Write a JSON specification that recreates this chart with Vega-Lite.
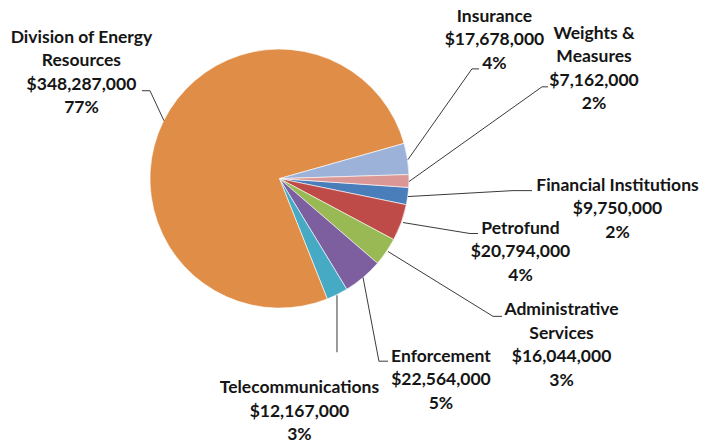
{
  "$schema": "https://vega.github.io/schema/vega-lite/v6.json",
  "width": 704,
  "height": 444,
  "autosize": {"type": "fit", "contains": "padding"},
  "padding": 0,
  "background": "white",
  "config": {"view": {"stroke": null}},
  "datasets": {
    "budget": [
      {"name": "Financial Institutions", "label": "Financial  Institutions", "amount": 9750000, "pct": 2},
      {"name": "Petrofund", "label": "Petrofund", "amount": 20794000, "pct": 4},
      {"name": "Administrative Services", "label": "Administrative\nServices", "amount": 16044000, "pct": 3},
      {"name": "Enforcement", "label": "Enforcement", "amount": 22564000, "pct": 5},
      {"name": "Telecommunications", "label": "Telecommunications", "amount": 12167000, "pct": 3},
      {"name": "Division of Energy Resources", "label": "Division of Energy\nResources", "amount": 348287000, "pct": 77},
      {"name": "Insurance", "label": "Insurance", "amount": 17678000, "pct": 4},
      {"name": "Weights & Measures", "label": "Weights &\nMeasures", "amount": 7162000, "pct": 2}
    ],
    "labelpos": [
      {"name": "Financial Institutions", "lx": 261.0, "ly": -4.6},
      {"name": "Petrofund", "lx": 186.1, "ly": -38.1},
      {"name": "Administrative Services", "lx": 217.8, "ly": -101.2},
      {"name": "Enforcement", "lx": 124.7, "ly": -137.2},
      {"name": "Telecommunications", "lx": 15.4, "ly": -161.6},
      {"name": "Division of Energy Resources", "lx": -152.9, "ly": 109.7},
      {"name": "Insurance", "lx": 166.0, "ly": 125.9},
      {"name": "Weights & Measures", "lx": 242.9, "ly": 112.7}
    ],
    "leaders": [
      {"name": "Division of Energy Resources", "k": 0, "lx": -89.2, "ly": 44.8},
      {"name": "Division of Energy Resources", "k": 1, "lx": -100.0, "ly": 68.0},
      {"name": "Division of Energy Resources", "k": 2, "lx": -106.2, "ly": 68.0},
      {"name": "Insurance", "k": 0, "lx": 99.2, "ly": 14.7},
      {"name": "Insurance", "k": 1, "lx": 148.6, "ly": 84.9},
      {"name": "Insurance", "k": 2, "lx": 154.1, "ly": 84.9},
      {"name": "Weights & Measures", "k": 0, "lx": 100.0, "ly": -2.3},
      {"name": "Weights & Measures", "k": 1, "lx": 202.7, "ly": 71.0},
      {"name": "Weights & Measures", "k": 2, "lx": 207.3, "ly": 71.0},
      {"name": "Financial Institutions", "k": 0, "lx": 99.2, "ly": -13.9},
      {"name": "Financial Institutions", "k": 1, "lx": 180.3, "ly": -9.3},
      {"name": "Financial Institutions", "k": 2, "lx": 195.0, "ly": -9.3},
      {"name": "Petrofund", "k": 0, "lx": 95.4, "ly": -34.0},
      {"name": "Petrofund", "k": 1, "lx": 147.1, "ly": -42.5},
      {"name": "Petrofund", "k": 2, "lx": 153.3, "ly": -42.5},
      {"name": "Administrative Services", "k": 0, "lx": 83.8, "ly": -56.4},
      {"name": "Administrative Services", "k": 1, "lx": 164.9, "ly": -106.6},
      {"name": "Administrative Services", "k": 2, "lx": 171.8, "ly": -106.6},
      {"name": "Enforcement", "k": 0, "lx": 64.5, "ly": -76.4},
      {"name": "Enforcement", "k": 1, "lx": 76.8, "ly": -141.3},
      {"name": "Enforcement", "k": 2, "lx": 83.8, "ly": -141.3},
      {"name": "Telecommunications", "k": 0, "lx": 44.4, "ly": -90.3},
      {"name": "Telecommunications", "k": 1, "lx": 44.4, "ly": -134.4}
    ]
  },
  "layer": [
    {
      "data": {"name": "budget"},
      "transform": [{"window": [{"op": "row_number", "as": "i"}]}],
      "mark": {"type": "arc", "outerRadius": 129.5, "stroke": "white", "strokeWidth": 0.6},
      "encoding": {
        "theta": {"field": "amount", "type": "quantitative", "stack": true, "scale": {"range": [1.639, 7.922]}},
        "order": {"field": "i", "type": "quantitative"},
        "color": {
          "field": "name",
          "type": "nominal",
          "legend": null,
          "scale": {
            "domain": ["Financial Institutions", "Petrofund", "Administrative Services", "Enforcement", "Telecommunications", "Division of Energy Resources", "Insurance", "Weights & Measures"],
            "range": ["#4A7EBB", "#BE4B48", "#98B954", "#7D5FA0", "#46AAC5", "#E08E47", "#9DB2D9", "#DA9796"]
          }
        },
        "x": {"datum": 0, "type": "quantitative", "scale": {"domain": [-215.8, 327.8], "nice": false, "zero": false}, "axis": null},
        "y": {"datum": 0, "type": "quantitative", "scale": {"domain": [-204.6, 138.2], "nice": false, "zero": false}, "axis": null}
      }
    },
    {
      "data": {"name": "leaders"},
      "mark": {"type": "line", "color": "#3a3a3a", "strokeWidth": 1},
      "encoding": {
        "x": {"field": "lx", "type": "quantitative", "axis": null},
        "y": {"field": "ly", "type": "quantitative", "axis": null},
        "detail": {"field": "name", "type": "nominal"},
        "order": {"field": "k", "type": "quantitative"}
      }
    },
    {
      "data": {"name": "labelpos"},
      "transform": [
        {"lookup": "name", "from": {"data": {"name": "budget"}, "key": "name", "fields": ["label", "amount", "pct"]}},
        {"calculate": "datum.label + '\\n$' + format(datum.amount, ',') + '\\n' + datum.pct + '%'", "as": "txt"}
      ],
      "mark": {"type": "text", "font": "Lato", "fontWeight": "bold", "fontSize": 17.5, "lineHeight": 23.5, "lineBreak": "\n", "align": "center", "baseline": "alphabetic", "dy": 6, "color": "#151515"},
      "encoding": {
        "x": {"field": "lx", "type": "quantitative", "axis": null},
        "y": {"field": "ly", "type": "quantitative", "axis": null},
        "text": {"field": "txt", "type": "nominal"}
      }
    }
  ]
}
